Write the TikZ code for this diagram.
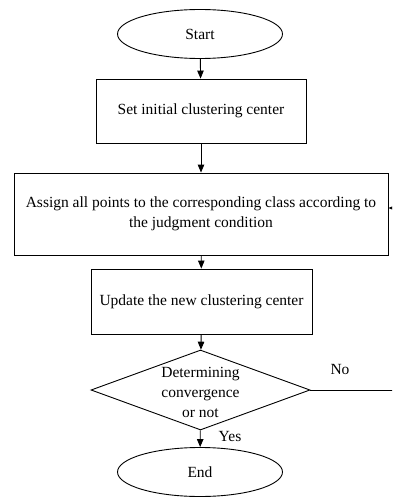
\documentclass[tikz,border=0pt]{standalone}
\usepackage{fontspec}
\setmainfont{Liberation Serif}
\usetikzlibrary{shapes.geometric,arrows.meta}
\begin{document}
\begin{tikzpicture}[x=1pt,y=-1pt,
  line width=0.9pt,
  every node/.style={font=\fontsize{15.5}{20}\selectfont},
  terminal/.style={draw,ellipse,minimum width=165pt,minimum height=49pt,inner sep=0pt},
  procbox/.style={draw,rectangle,inner sep=0pt},
  decision/.style={draw,diamond,minimum width=219pt,minimum height=80pt,inner sep=0pt},
  flow/.style={-{Triangle[width=6.5pt,length=8pt]}},
  tag/.style={inner sep=0pt}]
  \clip (0,0) rectangle (392,500);
  \useasboundingbox (0,0) rectangle (392,500);

  \node[terminal] (start) at (200,34) {Start};
  \node[procbox,minimum width=210pt,minimum height=64pt] (init) at (201,111) {Set initial clustering center};
  \node[procbox,minimum width=374pt,minimum height=82pt,align=center] (assign) at (201,214)
    {Assign all points to the corresponding class according to\\the judgment condition};
  \node[procbox,minimum width=221pt,minimum height=65pt] (update) at (201.5,301.5) {Update the new clustering center};
  \node[decision] (conv) at (200.5,390) {};
  \node[tag,align=center] (convtext) at (200.5,392) {Determining\\convergence\\or not};
  \node[terminal] (end) at (200,472) {End};

  \node[tag] (no) at (340,369) {No};
  \node[tag] (yes) at (230,436) {Yes};
  \coordinate (loop) at (430,390);

  \draw[flow] (start) -- (init);
  \draw[flow] (init) -- (assign);
  \draw[flow] (assign) -- (update);
  \draw[flow] (update) -- (conv);
  \draw[flow] (conv) -- (end);
  \draw[flow] (conv.east) -- (loop) |- ([yshift=6pt]assign.east);
\end{tikzpicture}
\end{document}
